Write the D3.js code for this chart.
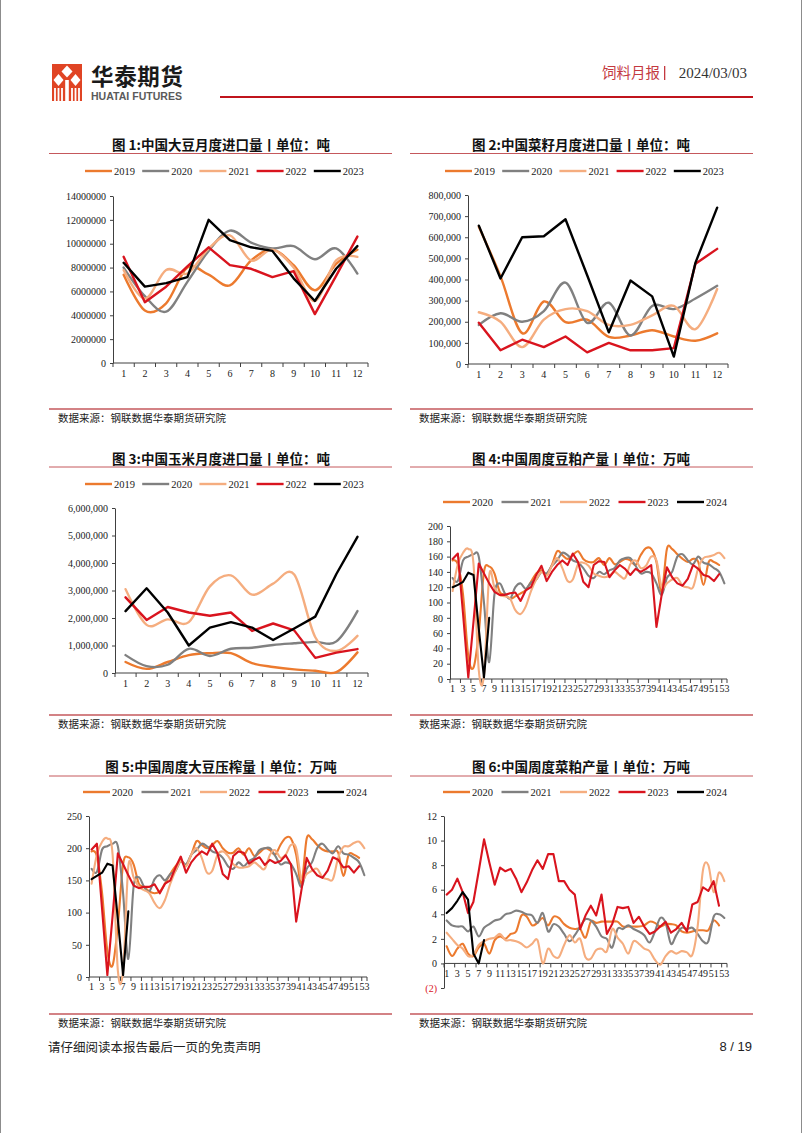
<!DOCTYPE html>
<html><head><meta charset="utf-8">
<script src="https://cdn.jsdelivr.net/npm/d3@7/dist/d3.min.js"></script>
<style>
html,body{margin:0;padding:0;background:#fff;}
svg{display:block;}
</style></head>
<body><svg id="page" width="802" height="1133"></svg>
<script>
// ---------------- DATA ----------------
const months = ["1","2","3","4","5","6","7","8","9","10","11","12"];
const weeks = d3.range(1, 54).map(String);
const yearsA = ["2019","2020","2021","2022","2023"];
const yearsB = ["2020","2021","2022","2023","2024"];

// Chart 1: soybean monthly imports (tons)
const soy2019 = [7400000,4400000,5000000,8000000,7400000,6500000,8600000,9500000,8200000,6100000,8300000,9500000];
const soy2020 = [8000000,5600000,4300000,6800000,9400000,11100000,10100000,9600000,9800000,8700000,9600000,7500000];
const soy2021 = [7800000,5400000,7800000,7500000,9600000,10700000,8600000,9500000,8000000,5200000,8600000,8900000];
const soy2022 = [8900000,5100000,6400000,8100000,9700000,8200000,7900000,7200000,7700000,4100000,7300000,10600000];
const soy2023 = [8400000,6400000,6700000,7200000,12000000,10300000,9700000,9400000,7100000,5200000,7900000,9800000];
const soyTicks = [0,2000000,4000000,6000000,8000000,10000000,12000000,14000000];

// Chart 2: rapeseed monthly imports (tons)
const rs2019 = [650000,415000,146000,296000,198000,210000,128000,135000,160000,130000,110000,145000];
const rs2020 = [185000,240000,200000,250000,385000,195000,290000,135000,275000,260000,310000,370000];
const rs2021 = [245000,200000,80000,210000,260000,250000,185000,185000,230000,275000,165000,355000];
const rs2022 = [195000,65000,115000,80000,130000,55000,100000,65000,65000,75000,475000,545000];
const rs2023 = [655000,405000,600000,605000,685000,420000,150000,395000,320000,35000,480000,740000];
const rsTicks = [0,100000,200000,300000,400000,500000,600000,700000,800000];

// Chart 3: corn monthly imports (tons)
const corn2019 = [400000,150000,400000,650000,720000,720000,360000,220000,130000,80000,30000,750000];
const corn2020 = [650000,250000,300000,880000,620000,880000,920000,1020000,1080000,1130000,1150000,2250000];
const corn2021 = [3050000,1750000,1950000,1850000,3150000,3550000,2850000,3250000,3580000,1300000,800000,1350000];
const corn2022 = [2750000,1930000,2400000,2200000,2080000,2200000,1530000,1800000,1550000,550000,740000,870000];
const corn2023 = [2250000,3080000,2200000,1000000,1650000,1850000,1650000,1200000,1620000,2050000,3600000,4950000];
const cornTicks = [0,1000000,2000000,3000000,4000000,5000000,6000000];

// Chart 4: weekly soymeal output (10k tons)
const sm2020 = [155,150,110,30,15,60,140,147,138,114,110,105,108,112,116,127,138,142,136,149,167,162,157,162,167,157,153,153,158,149,158,150,153,157,155,149,162,171,170,153,114,170,170,163,157,153,157,153,123,153,153,149];
const sm2021 = [132,128,155,160,163,160,100,22,110,125,112,105,120,125,118,126,130,140,138,148,155,165,162,155,152,145,135,132,140,137,142,145,155,158,158,148,138,140,138,125,110,132,140,160,163,155,150,160,152,150,145,140,125];
const sm2022 = [115,150,165,170,150,12,5,135,120,110,108,105,90,85,95,115,130,140,135,148,158,145,128,130,150,152,148,138,135,133,135,140,135,132,150,155,145,148,160,155,120,125,130,132,122,120,120,145,158,160,162,165,158];
const sm2023 = [157,164,85,2,75,151,138,125,114,110,110,112,113,102,116,120,136,148,128,140,149,155,149,164,153,127,120,149,154,153,133,142,149,144,136,144,140,144,149,68,110,146,133,125,122,131,149,144,136,134,128,137];
const sm2024 = [120,123,127,139,136,66,2,80];
const smTicks = [0,20,40,60,80,100,120,140,160,180,200];

// Chart 5: weekly soybean crush (10k tons)
const cr2020 = [195,188,130,40,18,80,175,186,175,145,140,133,130,133,145,160,172,180,173,190,211,205,200,205,211,200,193,193,200,190,200,188,193,200,197,190,205,216,215,190,145,215,214,205,198,195,195,193,157,190,190,185];
const cr2021 = [168,163,198,203,207,203,130,28,140,155,140,133,152,158,150,160,165,180,175,190,197,207,203,195,192,185,172,168,178,172,180,185,197,200,200,188,175,178,175,160,140,168,178,200,207,198,192,203,192,190,185,178,158];
const cr2022 = [145,190,210,215,190,10,10,172,155,140,135,130,115,107,120,145,165,180,172,190,200,185,162,165,190,195,188,175,170,170,172,178,172,168,190,197,185,190,205,200,152,160,165,168,155,152,152,185,202,203,208,210,200];
const cr2023 = [198,207,105,3,95,192,175,158,142,138,140,140,144,130,145,150,170,187,162,178,188,195,190,207,192,160,152,188,195,193,176,182,186,174,182,177,180,189,175,86,135,185,168,158,154,165,186,182,170,172,162,172];
const cr2024 = [152,157,162,176,173,90,3,102];
const crTicks = [0,50,100,150,200,250];

// Chart 6: weekly rapeseed meal output (10k tons)
const rm2020 = [1.4,0.6,1.2,1.6,0.8,0.6,1.3,1.6,0.8,1.9,2.2,2.0,2.4,2.6,3.9,3.8,3.1,3.3,3.7,3.1,3.8,3.7,3.2,2.9,2.8,2.8,2.1,3.4,3.3,3.4,3.4,3.4,3.4,3.0,3.0,3.0,3.0,3.1,3.4,3.3,3.0,3.2,3.2,3.1,2.6,2.5,2.6,2.7,2.7,2.7,3.5,3.1];
const rm2021 = [3.5,3.1,3.0,3.0,2.6,3.0,2.2,2.9,3.2,3.5,3.6,4.0,4.1,4.3,4.2,4.0,3.9,3.3,4.1,2.6,3.2,3.0,2.4,1.8,2.3,3.0,3.6,3.5,3.0,2.2,2.0,1.3,2.8,2.8,3.1,2.8,2.6,2.3,1.7,2.6,3.7,3.3,1.6,2.3,2.9,2.8,2.9,2.4,1.8,1.8,3.8,4.0,3.7];
const rm2022 = [2.5,2.0,1.5,1.2,0.6,0.7,1.5,1.8,2.0,2.1,2.4,1.9,1.9,1.8,1.6,1.3,1.6,1.9,0.0,1.2,0.6,0.5,1.5,2.3,1.7,2.0,0.5,0.4,1.1,1.2,1.0,2.8,2.1,1.6,0.8,1.8,1.6,1.2,1.0,0.3,-0.1,0.6,1.0,0.8,1.0,0.9,0.7,3.0,7.6,8.0,5.8,7.4,6.7];
const rm2023 = [5.6,6.0,6.9,5.8,4.1,5.0,7.5,10.1,8.2,6.4,7.8,7.5,7.7,6.9,5.8,6.6,7.6,8.4,7.7,8.9,8.9,6.7,6.7,6.0,5.6,2.8,3.9,4.7,3.9,5.6,2.4,3.2,4.6,4.5,4.6,3.3,3.8,3.0,2.4,2.6,3.0,3.4,2.5,2.8,3.3,2.6,4.8,5.0,6.2,5.9,6.7,4.7];
const rm2024 = [4.1,4.5,5.1,5.8,5.2,0.8,0.0,1.9];
const rmTicks = [-2,0,2,4,6,8,10,12];

const weekLabels = weeks.filter((w,i)=>i%2===0);

// ---------------- STYLE ----------------
const COLORS = ["#EC7A2E","#808080","#F5AD7F","#D9141E","#000000"];
const SMOOTH = [true,true,true,false,false];
const SERIF = "'Liberation Serif','Times New Roman',serif";
const CJK = "'Noto Sans CJK SC','Noto Sans',sans-serif";
const AXIS = "#404040";
const RULE = "#C5585C";

const svg = d3.select("#page");

// page side borders
svg.append("line").attr("x1",0.5).attr("x2",0.5).attr("y1",0).attr("y2",1133).attr("stroke","#8c8c8c");
svg.append("line").attr("x1",801.5).attr("x2",801.5).attr("y1",0).attr("y2",1133).attr("stroke","#8c8c8c");

// ---------------- HEADER ----------------
const logo = svg.append("g");
logo.append("rect").attr("x",52).attr("y",64).attr("width",30).attr("height",37).attr("fill","#E04424");
const dia = (cx,cy,hw,hh)=>`M${cx},${cy-hh}L${cx+hw},${cy}L${cx},${cy+hh}L${cx-hw},${cy}Z`;
logo.append("path").attr("d",dia(67,71.5,5.5,6)).attr("fill","#fff");
logo.append("path").attr("d",dia(58.5,80,5,6)).attr("fill","#fff");
logo.append("path").attr("d",dia(75.5,80,5,6)).attr("fill","#fff");
[55,58.5,62,72,75.5,79].forEach(x=>{
  logo.append("rect").attr("x",x-0.9).attr("y",88).attr("width",1.8).attr("height",13).attr("fill","#fff");
});
logo.append("rect").attr("x",65.2).attr("y",80).attr("width",3.6).attr("height",21).attr("fill","#fff");

svg.append("text").attr("x",91).attr("y",85).style("font-family",CJK).style("font-weight","bold")
  .style("font-size","22.5px").attr("fill","#1a1a1a").attr("textLength",92).text("华泰期货");
svg.append("text").attr("x",91).attr("y",99.5).style("font-family","'Liberation Sans',Arial,sans-serif").style("font-weight","bold")
  .style("font-size","10.5px").attr("fill","#5a5a5a").attr("textLength",91).attr("lengthAdjust","spacingAndGlyphs").text("HUATAI FUTURES");

svg.append("text").attr("x",660).attr("y",78).attr("text-anchor","end").style("font-family",CJK)
  .style("font-size","14.5px").attr("fill","#C4393F").text("饲料月报");
svg.append("rect").attr("x",664).attr("y",66).attr("width",1.3).attr("height",14).attr("fill","#C4393F");
svg.append("text").attr("x",747).attr("y",78).attr("text-anchor","end").style("font-family",SERIF)
  .style("font-size","15px").attr("fill","#333").text("2024/03/03");
svg.append("line").attr("x1",220).attr("x2",753).attr("y1",97).attr("y2",97).attr("stroke","#C0141C").attr("stroke-width",2);

// ---------------- CHART FUNCTION ----------------
function drawChart(c){
  const g = svg.append("g");
  g.append("text").attr("x",c.cx).attr("y",c.titleY).attr("text-anchor","middle").attr("dominant-baseline","central")
    .style("font-family",CJK).style("font-weight","bold").style("font-size","13.5px").attr("fill","#111").text(c.title);
  g.append("line").attr("x1",c.colL).attr("x2",c.colR).attr("y1",c.titleLineY).attr("y2",c.titleLineY)
    .attr("stroke",RULE).attr("stroke-width",1);

  // legend
  c.names.forEach((n,i)=>{
    const lx = c.legX + i*c.legStep;
    g.append("line").attr("x1",lx).attr("x2",lx+27).attr("y1",c.legY).attr("y2",c.legY)
      .attr("stroke",COLORS[i]).attr("stroke-width",2.4);
    g.append("text").attr("x",lx+29).attr("y",c.legY).attr("dominant-baseline","central")
      .style("font-family",SERIF).style("font-size","10.5px").attr("fill","#222").text(n);
  });

  const x = d3.scaleBand().domain(c.cats).range([c.x0,c.x1]).padding(0);
  const y = d3.scaleLinear().domain([c.yTicks[0], c.yTicks[c.yTicks.length-1]]).range([c.yBot,c.yTop]);
  const bw = x.bandwidth();
  const xAxisY = y(c.xAxisAt);

  // y axis
  const ya = g.append("g").attr("transform",`translate(${c.x0},0)`)
    .call(d3.axisLeft(y).tickValues(c.yTicks).tickSize(3).tickSizeOuter(0).tickPadding(4).tickFormat(c.fmt));
  ya.select(".domain").attr("stroke",AXIS);
  ya.selectAll(".tick line").attr("stroke",AXIS);
  ya.selectAll(".tick text").style("font-family",SERIF).style("font-size","10px")
    .attr("fill",d=>d<0?"#D9141E":"#1a1a1a");

  // x axis: domain + boundary ticks + labels
  g.append("line").attr("x1",c.x0).attr("x2",c.x1).attr("y1",xAxisY).attr("y2",xAxisY).attr("stroke",AXIS);
  const tickCats = c.cats.filter((d,i)=>i%c.tickEvery===0);
  g.selectAll(".xb").data(tickCats).enter().append("line")
    .attr("x1",d=>x(d)).attr("x2",d=>x(d)).attr("y1",xAxisY).attr("y2",xAxisY+4).attr("stroke",AXIS);
  g.append("line").attr("x1",c.x1).attr("x2",c.x1).attr("y1",xAxisY).attr("y2",xAxisY+4).attr("stroke",AXIS);
  const xa = g.append("g").attr("transform",`translate(0,${xAxisY})`)
    .call(d3.axisBottom(x).tickValues(c.labels).tickSize(0).tickPadding(c.xPad));
  xa.select(".domain").remove();
  xa.selectAll(".tick text").style("font-family",SERIF).style("font-size","10px").attr("fill","#1a1a1a");

  // series
  c.series.forEach((vals,i)=>{
    const line = d3.line().x((v,j)=>x(c.cats[j])+bw/2).y(v=>y(v))
      .curve(SMOOTH[i] ? d3.curveCatmullRom.alpha(0) : d3.curveLinear);
    g.append("path").datum(vals).attr("d",line).attr("fill","none").attr("stroke",COLORS[i])
      .attr("stroke-width",c.lw).attr("stroke-linejoin","round").attr("stroke-linecap","round");
  });

  // source
  g.append("line").attr("x1",c.colL).attr("x2",c.colR).attr("y1",c.srcY-8).attr("y2",c.srcY-8)
    .attr("stroke",RULE).attr("stroke-width",1.5);
  g.append("text").attr("x",c.colL+9).attr("y",c.srcY).attr("dominant-baseline","central")
    .style("font-family",CJK).style("font-size","10.5px").attr("fill","#222").text("数据来源：钢联数据华泰期货研究院");
}

const fmtPlain = d3.format("d");
const fmtComma = d3.format(",");
const fmtNeg = d => d<0 ? `(${-d})` : String(d);

const L = {colL:49,colR:392,cx:221}, R = {colL:410,colR:753,cx:581};

drawChart({...L, title:"图 1:中国大豆月度进口量丨单位：吨", titleY:144, titleLineY:153.5,
  names:yearsA, legX:85, legStep:57.2, legY:171, cats:months, labels:months, tickEvery:1,
  x0:113, x1:368, yTop:196, yBot:363, yTicks:soyTicks, fmt:fmtPlain, xAxisAt:0, xPad:7,
  series:[soy2019,soy2020,soy2021,soy2022,soy2023], lw:2.4, srcY:417});

drawChart({...R, title:"图 2:中国菜籽月度进口量丨单位：吨", titleY:144, titleLineY:153.5,
  names:yearsA, legX:445, legStep:57.2, legY:171, cats:months, labels:months, tickEvery:1,
  x0:468, x1:728, yTop:195, yBot:364, yTicks:rsTicks, fmt:fmtComma, xAxisAt:0, xPad:7,
  series:[rs2019,rs2020,rs2021,rs2022,rs2023], lw:2.4, srcY:417});

drawChart({...L, title:"图 3:中国玉米月度进口量丨单位：吨", titleY:458, titleLineY:467,
  names:yearsA, legX:85, legStep:57.2, legY:484, cats:months, labels:months, tickEvery:1,
  x0:115, x1:368, yTop:508, yBot:673, yTicks:cornTicks, fmt:fmtComma, xAxisAt:0, xPad:7,
  series:[corn2019,corn2020,corn2021,corn2022,corn2023], lw:2.4, srcY:723});

drawChart({...R, title:"图 4:中国周度豆粕产量丨单位：万吨", titleY:458, titleLineY:467,
  names:yearsB, legX:443, legStep:58.5, legY:502, cats:weeks, labels:weekLabels, tickEvery:2,
  x0:450, x1:727, yTop:526, yBot:679, yTicks:smTicks, fmt:fmtPlain, xAxisAt:0, xPad:6,
  series:[sm2020,sm2021,sm2022,sm2023,sm2024], lw:2.1, srcY:723});

drawChart({...L, title:"图 5:中国周度大豆压榨量丨单位：万吨", titleY:766, titleLineY:776,
  names:yearsB, legX:83, legStep:58.5, legY:792, cats:weeks, labels:weekLabels, tickEvery:2,
  x0:89, x1:367, yTop:816, yBot:977, yTicks:crTicks, fmt:fmtPlain, xAxisAt:0, xPad:6,
  series:[cr2020,cr2021,cr2022,cr2023,cr2024], lw:2.1, srcY:1022});

drawChart({...R, title:"图 6:中国周度菜粕产量丨单位：万吨", titleY:766, titleLineY:776,
  names:yearsB, legX:443, legStep:58.5, legY:792, cats:weeks, labels:weekLabels, tickEvery:2,
  x0:444, x1:727, yTop:816, yBot:988, yTicks:rmTicks, fmt:fmtNeg, xAxisAt:0, xPad:6,
  series:[rm2020,rm2021,rm2022,rm2023,rm2024], lw:2.1, srcY:1022});

// ---------------- FOOTER ----------------
svg.append("text").attr("x",48).attr("y",1046).attr("dominant-baseline","central").style("font-family",CJK)
  .style("font-size","12.5px").attr("fill","#222").text("请仔细阅读本报告最后一页的免责声明");
svg.append("text").attr("x",752).attr("y",1046).attr("dominant-baseline","central").attr("text-anchor","end")
  .style("font-family","'Liberation Sans',Arial,sans-serif").style("font-size","13px").attr("fill","#222").text("8 / 19");
</script>
</body></html>
